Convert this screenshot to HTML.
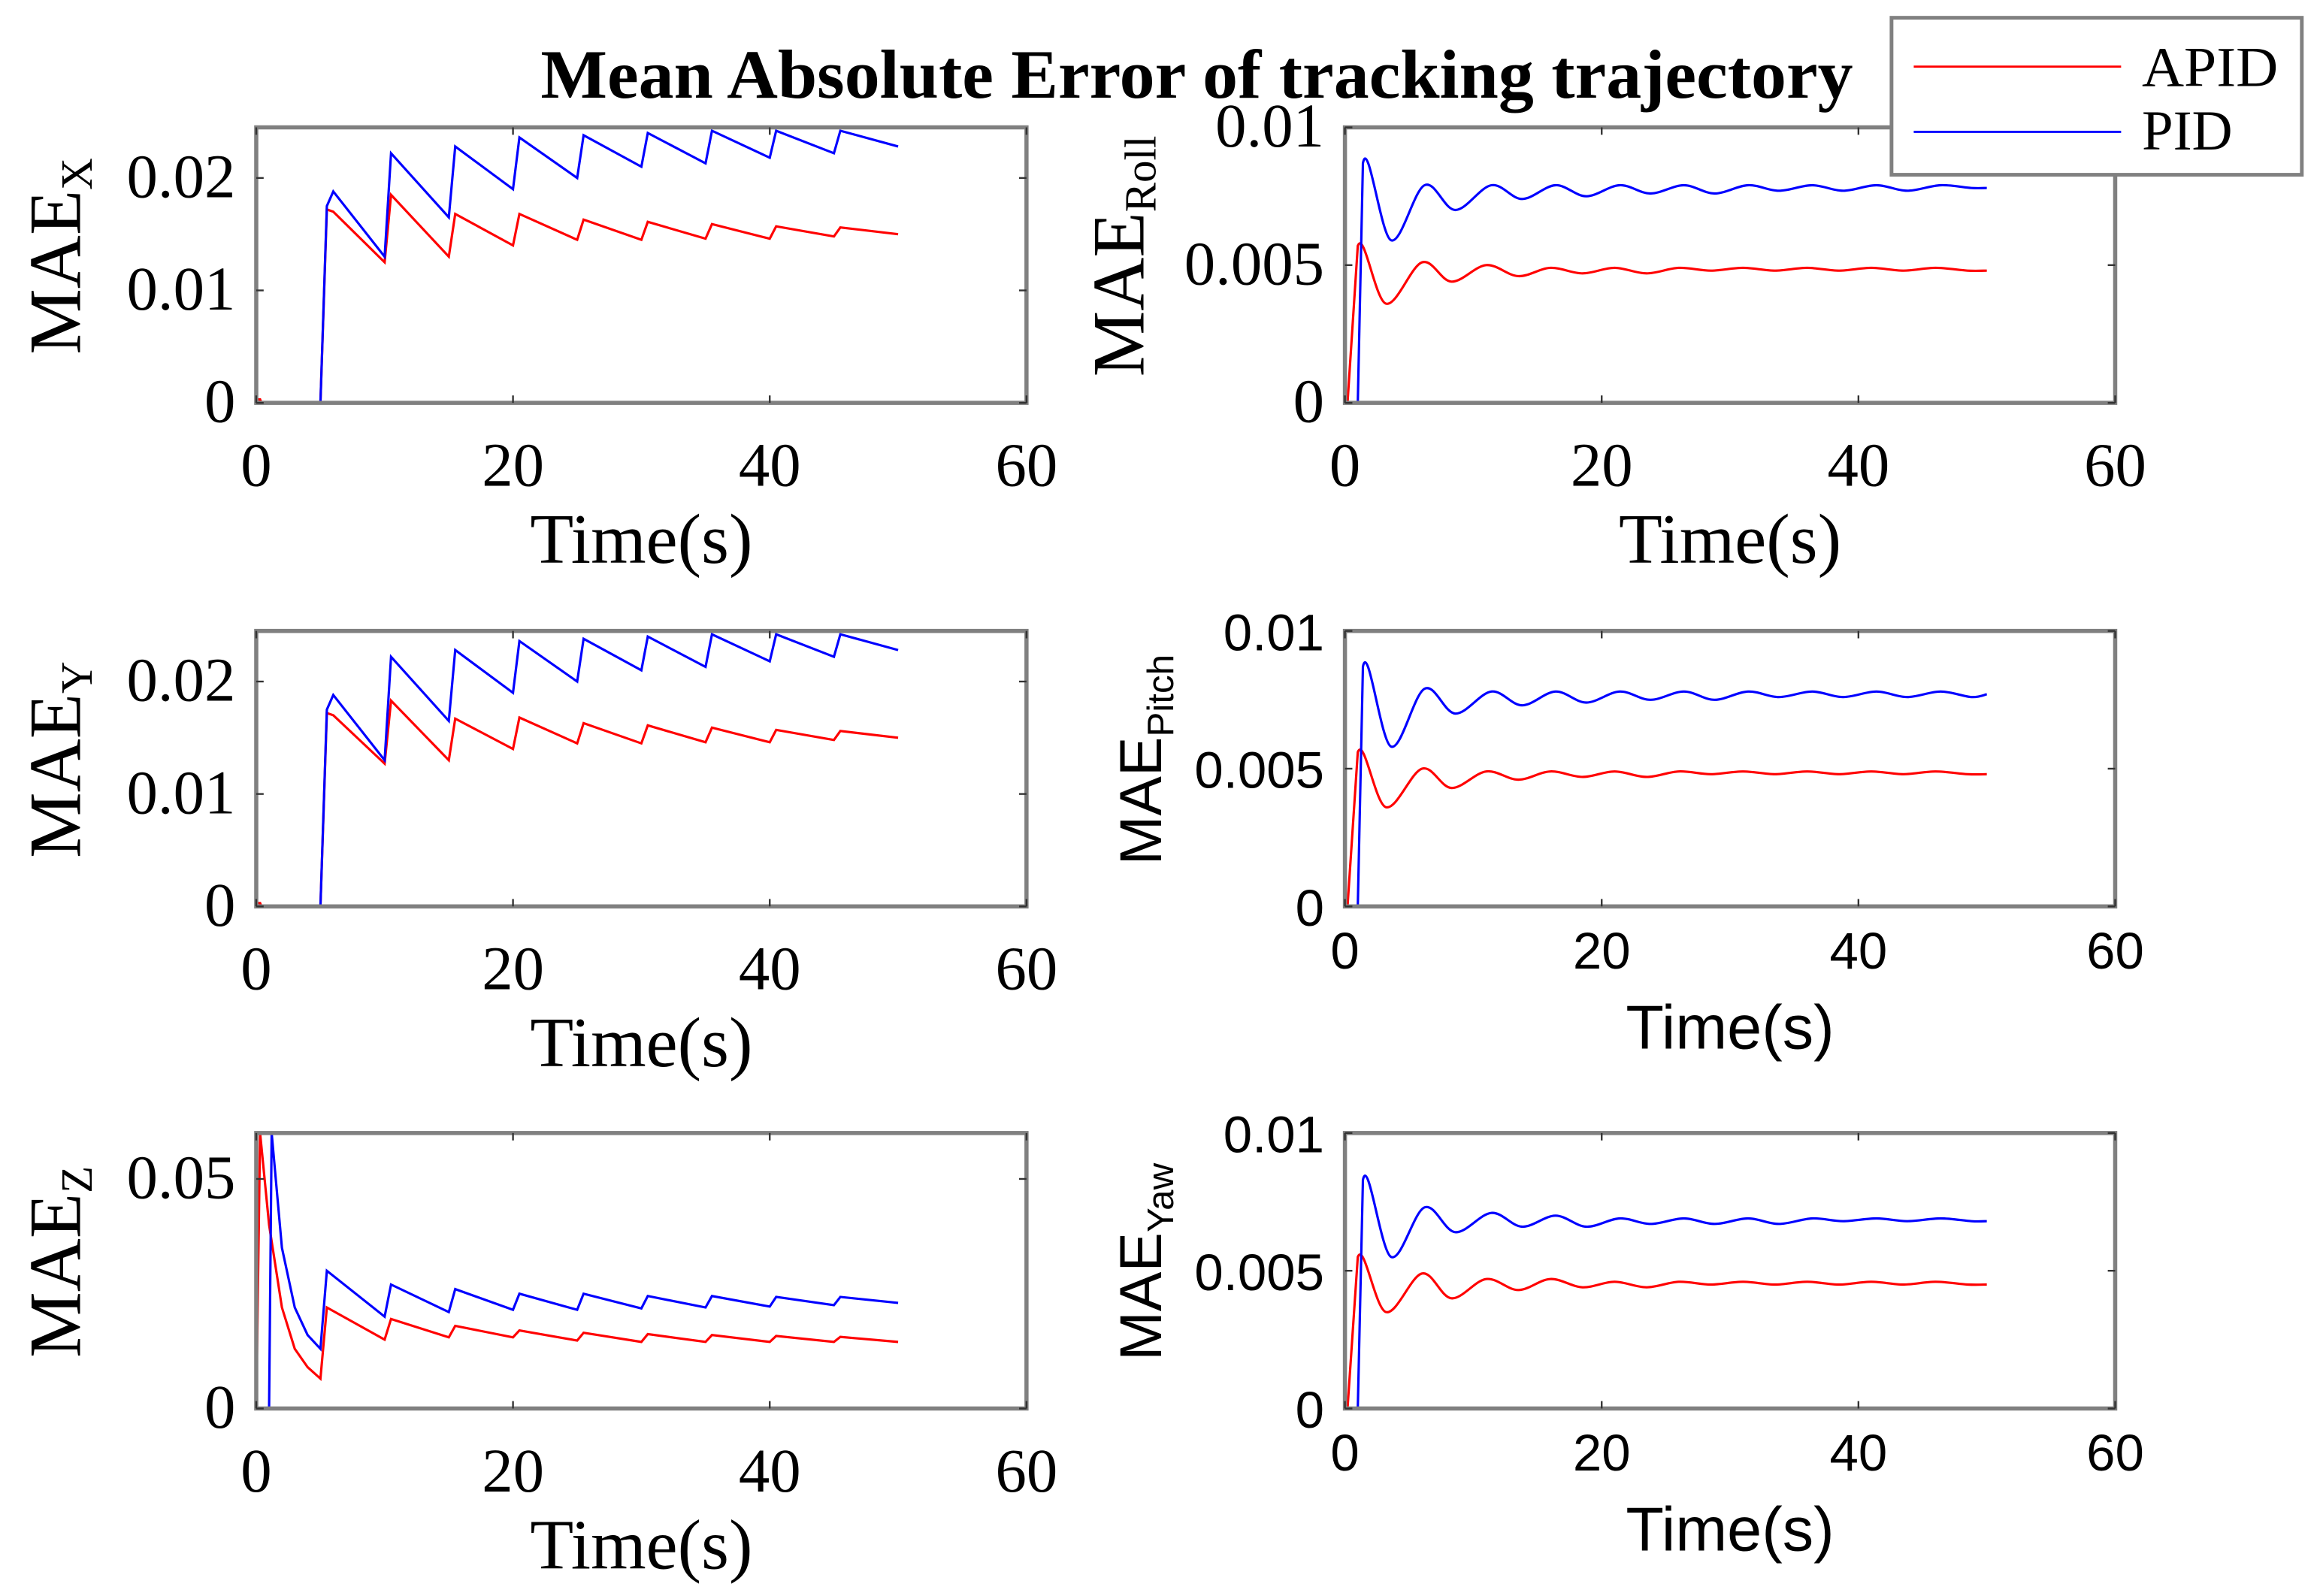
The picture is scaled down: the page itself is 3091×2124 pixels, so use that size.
<!DOCTYPE html>
<html><head><meta charset="utf-8"><style>
html,body{margin:0;padding:0;background:#fff;}
svg{display:block;}
.serif{font-family:"Liberation Serif",serif;}
.sans{font-family:"Liberation Sans",sans-serif;}
</style></head><body>
<svg id="fig" width="3091" height="2124" viewBox="0 0 1568.3 1077.6" preserveAspectRatio="none" xmlns="http://www.w3.org/2000/svg">
<text class="serif" x="808" y="66" font-size="47" font-weight="bold" text-anchor="middle" textLength="886" lengthAdjust="spacingAndGlyphs">Mean Absolute Error of tracking trajectory</text>
<g id="panels"></g>
<g>
<rect x="1277" y="12" width="277" height="106" fill="#fff" stroke="#808080" stroke-width="2.5"/>
<line x1="1292" y1="45" x2="1432" y2="45" stroke="#ff0000" stroke-width="1.5"/>
<text class="serif" x="1446" y="58" font-size="38" textLength="92" lengthAdjust="spacingAndGlyphs">APID</text>
<line x1="1292" y1="89" x2="1432" y2="89" stroke="#0000ff" stroke-width="1.5"/>
<text class="serif" x="1446" y="101" font-size="38">PID</text>
</g>
</svg>
<script>
// ---- data (time in s, MAE values) ----
const tX = [0,0.3,0.4,5,5.5,6,10,10.5,15,15.5,20,20.5,25,25.5,30,30.5,35,35.5,40,40.5,45,45.5,50];
const apidX = [0.0003,0.0003,0,0,0.0172,0.0170,0.0125,0.0185,0.0130,0.0168,0.0140,0.0168,0.0145,0.0163,0.0145,0.0161,0.0146,0.0159,0.0146,0.0157,0.0148,0.0156,0.0150];
const tXp = [0,5,5.5,6,10,10.5,15,15.5,20,20.5,25,25.5,30,30.5,35,35.5,40,40.5,45,45.5,50];
const pidX = [0,0,0.0175,0.0188,0.0130,0.0222,0.0165,0.0228,0.0190,0.0236,0.0200,0.0238,0.0210,0.0240,0.0213,0.0242,0.0218,0.0242,0.0222,0.0242,0.0228];
const apidY = [0.0003,0.0003,0,0,0.0172,0.0170,0.0127,0.0183,0.0130,0.0167,0.0140,0.0168,0.0145,0.0163,0.0145,0.0161,0.0146,0.0159,0.0146,0.0157,0.0148,0.0156,0.0150];
const pidY = [0,0,0.0175,0.0188,0.0130,0.0222,0.0165,0.0228,0.0190,0.0236,0.0200,0.0238,0.0210,0.0240,0.0213,0.0242,0.0218,0.0242,0.0222,0.0242,0.0228];
const tZa = [0,0.3,1,2,3,4,5,5.5,10,10.5,15,15.5,20,20.5,25,25.5,30,30.5,35,35.5,40,40.5,45,45.5,50];
const apidZ = [0,0.060,0.040,0.022,0.013,0.009,0.0065,0.022,0.015,0.0195,0.0155,0.018,0.0155,0.017,0.0148,0.0165,0.0145,0.0162,0.0145,0.016,0.0145,0.0158,0.0145,0.0156,0.0145];
const tZp = [0,1,1.2,2,3,4,5,5.5,10,10.5,15,15.5,20,20.5,25,25.5,30,30.5,35,35.5,40,40.5,45,45.5,50];
const pidZ = [0,0,0.060,0.035,0.022,0.016,0.013,0.030,0.020,0.027,0.021,0.026,0.0215,0.025,0.0215,0.025,0.0218,0.0245,0.022,0.0245,0.0222,0.0243,0.0225,0.0243,0.023];
const tA = [0,0.2,1,3.2,6,8.3,11,13.5,16,18.5,21,23.5,26,28.5,31,33.5,36,38.5,41,43.5,46,48.5,50];
const apidRoll = [0,0,0.0057,0.0036,0.0051,0.0044,0.0050,0.0046,0.0049,0.0047,0.0049,0.0047,0.0049,0.0048,0.0049,0.0048,0.0049,0.0048,0.0049,0.0048,0.0049,0.0048,0.0048];
const tB = [0,1,1.4,3.6,6.2,8.6,11.4,13.8,16.4,18.8,21.4,23.8,26.4,28.8,31.4,33.8,36.4,38.8,41.4,43.8,46.4,48.8,50];
const pidRoll = [0,0,0.0087,0.0059,0.0079,0.0070,0.0079,0.0074,0.0079,0.0075,0.0079,0.0076,0.0079,0.0076,0.0079,0.0077,0.0079,0.0077,0.0079,0.0077,0.0079,0.0078,0.0078];
const apidPitch = [0,0,0.0056,0.0036,0.0050,0.0043,0.0049,0.0046,0.0049,0.0047,0.0049,0.0047,0.0049,0.0048,0.0049,0.0048,0.0049,0.0048,0.0049,0.0048,0.0049,0.0048,0.0048];
const pidPitch = [0,0,0.0087,0.0058,0.0079,0.0070,0.0078,0.0073,0.0078,0.0074,0.0078,0.0075,0.0078,0.0075,0.0078,0.0076,0.0078,0.0076,0.0078,0.0076,0.0078,0.0076,0.0077];
const apidYaw = [0,0,0.0055,0.0035,0.0049,0.0040,0.0047,0.0043,0.0047,0.0044,0.0046,0.0044,0.0046,0.0045,0.0046,0.0045,0.0046,0.0045,0.0046,0.0045,0.0046,0.0045,0.0045];
const pidYaw = [0,0,0.0083,0.0055,0.0073,0.0064,0.0071,0.0066,0.0070,0.0066,0.0069,0.0067,0.0069,0.0067,0.0069,0.0067,0.0069,0.0068,0.0069,0.0068,0.0069,0.0068,0.0068];
const xTicks = [0,20,40,60];
const yTicksPos = [0,0.01,0.02];
const yTicksZ = [0,0.05];
const yTicksAtt = [0,0.005,0.01];

const NS='http://www.w3.org/2000/svg';
const root=document.getElementById('panels');
function mk(tag,attrs,parent){const e=document.createElementNS(NS,tag);for(const k in attrs)e.setAttribute(k,attrs[k]);(parent||root).appendChild(e);return e;}

const panels=[
 {id:'x',x0:173,x1:693,y0:86,y1:272,ymax:0.0245,yt:yTicksPos,sub:'X',font:'serif',series:[[tX,apidX,'#ff0000',false],[tXp,pidX,'#0000ff',false]]},
 {id:'y',x0:173,x1:693,y0:426,y1:612,ymax:0.0245,yt:yTicksPos,sub:'Y',font:'serif',series:[[tX,apidY,'#ff0000',false],[tXp,pidY,'#0000ff',false]]},
 {id:'z',x0:173,x1:693,y0:765,y1:951,ymax:0.06,yt:yTicksZ,sub:'Z',font:'serif',series:[[tZa,apidZ,'#ff0000',false],[tZp,pidZ,'#0000ff',false]]},
 {id:'roll',x0:908,x1:1428,y0:86,y1:272,ymax:0.01,yt:yTicksAtt,sub:'Roll',font:'serif',series:[[tA,apidRoll,'#ff0000',true],[tB,pidRoll,'#0000ff',true]]},
 {id:'pitch',x0:908,x1:1428,y0:426,y1:612,ymax:0.01,yt:yTicksAtt,sub:'Pitch',font:'sans',series:[[tA,apidPitch,'#ff0000',true],[tB,pidPitch,'#0000ff',true]]},
 {id:'yaw',x0:908,x1:1428,y0:765,y1:951,ymax:0.01,yt:yTicksAtt,sub:'Yaw',font:'sans',series:[[tA,apidYaw,'#ff0000',true],[tB,pidYaw,'#0000ff',true]]}
];

function smoothPath(pts){
 let d='M'+pts[0][0]+','+pts[0][1];
 for(let i=0;i<pts.length-1;i++){
  const p0=pts[Math.max(0,i-1)],p1=pts[i],p2=pts[i+1],p3=pts[Math.min(pts.length-1,i+2)];
  let c1x=p1[0]+(p2[0]-p0[0])/6,c1y=p1[1]+(p2[1]-p0[1])/6,c2x=p2[0]-(p3[0]-p1[0])/6,c2y=p2[1]-(p3[1]-p1[1])/6;
  if(i<2){c1x=p1[0];c1y=p1[1];c2x=p2[0];c2y=p2[1];}
  d+=' C'+c1x+','+c1y+' '+c2x+','+c2y+' '+p2[0]+','+p2[1];
 }
 return d;
}

panels.forEach(p=>{
 const g=mk('g',{});
 
 
 const sx=t=>p.x0+(t/60)*(p.x1-p.x0);
 const sy=v=>p.y1-(v/p.ymax)*(p.y1-p.y0);
 const isSans=p.font==='sans';
 const fcls=p.font;
 p.series.forEach((s,si)=>{
  const pts=s[0].map((t,i)=>[sx(t),sy(s[1][i])]);
  const path=mk('path',{d:s[3]?smoothPath(pts):'M'+pts.map(q=>q.join(',')).join(' L'),fill:'none',stroke:s[2],'stroke-width':1.6},g);
  
  
 });
 const fr=mk('rect',{x:p.x0,y:p.y0,width:p.x1-p.x0,height:p.y1-p.y0,fill:'none',stroke:'#808080','stroke-width':2.8},g);
 
 
 const tfs=isSans?35:42;
 xTicks.forEach(t=>{
  const x=sx(t);
  mk('line',{x1:x,y1:p.y1,x2:x,y2:p.y1-5,stroke:'#333','stroke-width':1.2},g);
  mk('line',{x1:x,y1:p.y0,x2:x,y2:p.y0+5,stroke:'#333','stroke-width':1.2},g);
  const tl=mk('text',{x:x,y:p.y1+(isSans?42:56),'font-size':tfs,'text-anchor':'middle',class:fcls},g);
  tl.textContent=t;
  
  
 });
 p.yt.forEach(v=>{
  const y=sy(v);
  mk('line',{x1:p.x0,y1:y,x2:p.x0+5,y2:y,stroke:'#333','stroke-width':1.2},g);
  mk('line',{x1:p.x1,y1:y,x2:p.x1-5,y2:y,stroke:'#333','stroke-width':1.2},g);
  const tl=mk('text',{x:p.x0-14,y:y+13,'font-size':tfs,'text-anchor':'end',class:fcls},g);
  tl.textContent=String(v);
  
  
 });
 const xl=mk('text',{x:(p.x0+p.x1)/2,y:p.y1+(isSans?96:108),'font-size':isSans?42:48,'text-anchor':'middle',class:fcls},g);
 xl.textContent='Time(s)';
 
 
 const lx=p.x0<500?54:(isSans?784:772);
 const cy=(p.y0+p.y1)/2-6;
 const yl=mk('text',{transform:'translate('+lx+','+cy+') rotate(-90)','font-size':isSans?40:50,'text-anchor':'middle',class:fcls},g);
 
 
 const m=document.createElementNS(NS,'tspan');m.textContent='MAE';yl.appendChild(m);
 const sb=document.createElementNS(NS,'tspan');sb.setAttribute('font-size',isSans?25:30);sb.setAttribute('dy','8');sb.textContent=p.sub;yl.appendChild(sb);
});
</script>
</body></html>
